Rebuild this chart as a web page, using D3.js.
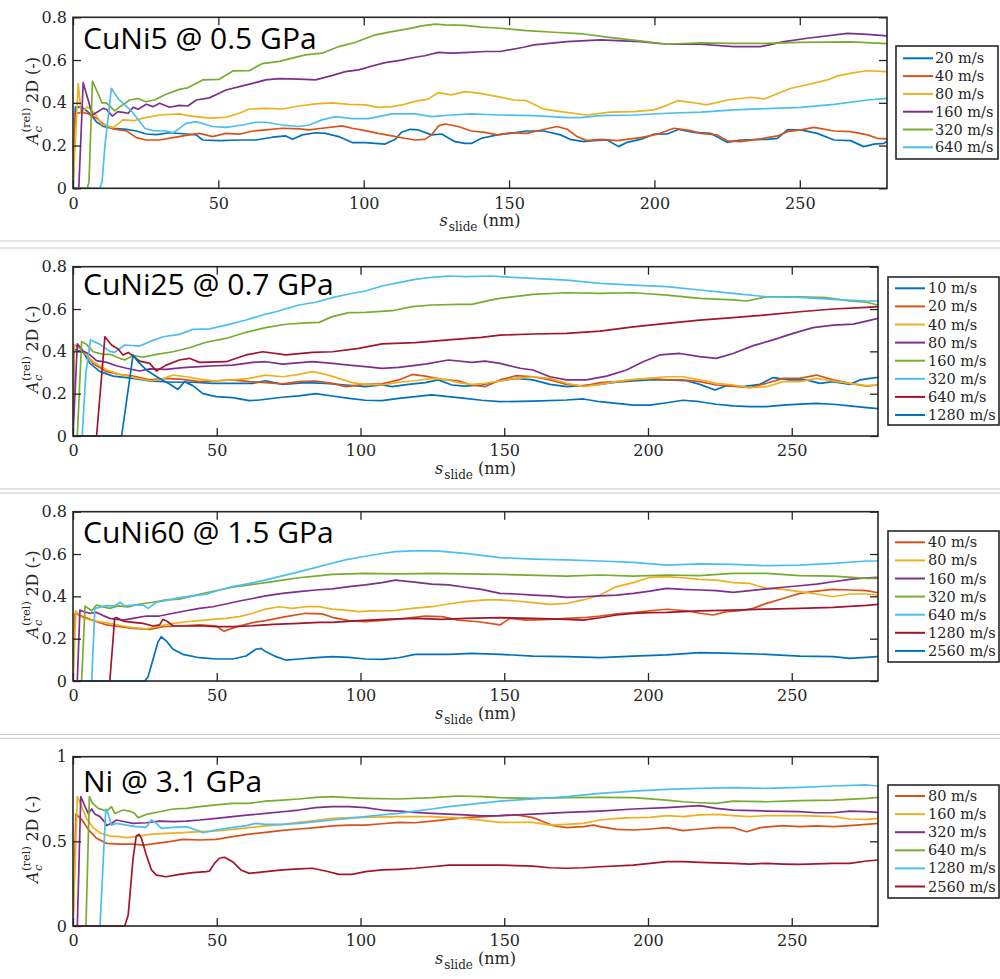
<!DOCTYPE html>
<html>
<head>
<meta charset="utf-8">
<script src="https://cdn.jsdelivr.net/npm/d3@7"></script>
<style>
  html, body { margin: 0; padding: 0; background: #fff; }
  svg { display: block; }
</style>
</head>
<body>
<svg id="fig" width="1000" height="979"></svg>
<script>
// ---------------------------------------------------------------
// Relative 2D contact area vs. sliding distance, four alloys.
// Each series is a list of [s_slide (nm), A_c^(rel) 2D] samples.
// ---------------------------------------------------------------

const xTicks = [0, 50, 100, 150, 200, 250];
const yTicksLow = [0, 0.2, 0.4, 0.6, 0.8];
const yTicksNi = [0, 0.5, 1];

// ---- CuNi5 @ 0.5 GPa ----
const cuni5Labels = ["20 m/s", "40 m/s", "80 m/s", "160 m/s", "320 m/s", "640 m/s"];
const cuni5_20 = [[0,0],[0.8,0.38],[3,0.38],[5.8,0.35],[8.1,0.31],[10.4,0.29],[13.8,0.28],[18.4,0.276],[21.8,0.268],[25.2,0.254],[28.7,0.251],[33.2,0.26],[39,0.254],[42.4,0.25],[44.6,0.226],[50.3,0.223],[57.2,0.226],[62.9,0.226],[68.6,0.239],[73.2,0.245],[75.5,0.229],[78.9,0.25],[83.4,0.26],[86.9,0.257],[91.4,0.242],[96,0.214],[100.6,0.214],[107.4,0.207],[110.8,0.229],[113,0.262],[116,0.276],[118.8,0.273],[123.4,0.25],[126.8,0.254],[131.4,0.218],[134.8,0.21],[137,0.21],[140.5,0.234],[146,0.25],[150.4,0.257],[156,0.268],[162,0.268],[167.7,0.25],[171,0.229],[175.7,0.218],[179,0.223],[183.7,0.226],[187.7,0.195],[190.6,0.215],[195.2,0.229],[199.8,0.253],[204.4,0.254],[208.4,0.276],[213.6,0.262],[219.3,0.257],[225,0.215],[229.6,0.226],[238.8,0.229],[242.3,0.234],[245.7,0.273],[250.3,0.273],[256,0.257],[261.8,0.226],[267.5,0.223],[272,0.195],[275.6,0.207],[279,0.21],[280,0.22]];
const cuni5_40 = [[0,0],[0.8,0.35],[3,0.355],[5,0.35],[8.1,0.328],[10.4,0.301],[13.8,0.278],[18.4,0.268],[21.8,0.237],[25.2,0.226],[29.8,0.226],[34.4,0.237],[40,0.25],[43.5,0.257],[48,0.242],[52.6,0.257],[57.2,0.253],[61.8,0.268],[66.3,0.273],[72,0.281],[77.7,0.278],[81.2,0.273],[85.7,0.281],[92.6,0.292],[96,0.281],[100.6,0.27],[105,0.257],[109.7,0.245],[114,0.234],[117.7,0.226],[121,0.229],[123.4,0.25],[125.7,0.292],[128,0.301],[132.5,0.289],[137,0.268],[141.7,0.262],[146,0.25],[150.4,0.26],[156,0.257],[159.6,0.268],[166.5,0.289],[170,0.276],[173.4,0.242],[176.8,0.223],[181.4,0.229],[187.2,0.223],[195.2,0.237],[201,0.253],[206.7,0.281],[212.4,0.27],[215.9,0.257],[221.6,0.25],[225,0.222],[229.6,0.218],[236.5,0.231],[242.3,0.245],[245.7,0.265],[250.3,0.273],[254.9,0.285],[261.8,0.268],[267.5,0.265],[273.3,0.25],[276.7,0.234],[280,0.231]];
const cuni5_80 = [[0,0],[1.8,0.49],[2.8,0.35],[5,0.382],[7.5,0.351],[9.8,0.3],[13.8,0.284],[17.2,0.32],[21.2,0.317],[24,0.328],[29.8,0.343],[36.6,0.348],[40,0.339],[46.9,0.328],[52.6,0.332],[57.2,0.351],[60.6,0.371],[66.3,0.374],[72,0.371],[77.7,0.385],[83.4,0.395],[89,0.4],[94.9,0.393],[100.6,0.39],[105,0.379],[109.7,0.382],[114,0.393],[118.8,0.41],[122,0.416],[125.7,0.448],[130,0.437],[134.8,0.452],[139.4,0.445],[146,0.429],[151.6,0.413],[156,0.41],[162,0.37],[167.7,0.359],[176.8,0.343],[184.9,0.356],[193,0.359],[199.8,0.367],[203,0.382],[208,0.41],[214.7,0.398],[218,0.39],[225,0.413],[233,0.426],[237.7,0.418],[242,0.441],[247,0.468],[253.7,0.488],[259.5,0.507],[263,0.526],[268.7,0.541],[273,0.55],[280,0.546]];
const cuni5_160 = [[0,0],[2,0],[3.5,0.494],[6.7,0.343],[10.4,0.374],[11.5,0.37],[13.5,0.338],[15.5,0.359],[19,0.351],[20.7,0.379],[22.4,0.37],[25.2,0.393],[27.5,0.382],[29.8,0.398],[33.2,0.379],[36.6,0.388],[39.5,0.385],[42.4,0.413],[46.9,0.423],[50.3,0.445],[52.6,0.46],[58.3,0.479],[61.8,0.491],[66.3,0.507],[70.9,0.513],[77.7,0.511],[83.4,0.507],[89,0.527],[93.7,0.546],[98.3,0.554],[102.9,0.572],[107.4,0.588],[113,0.6],[117.7,0.613],[121,0.62],[125.7,0.636],[130,0.632],[134.8,0.635],[141.7,0.64],[147,0.64],[155,0.66],[158.5,0.671],[170,0.686],[181.4,0.694],[195.2,0.686],[204.4,0.674],[215.9,0.674],[227.3,0.663],[236.5,0.663],[244.6,0.686],[252.6,0.702],[266.4,0.725],[273.3,0.72],[280,0.713]];
const cuni5_320 = [[0,0],[4.9,0],[5.5,0.03],[6.7,0.502],[10,0.4],[11.5,0.4],[14.4,0.362],[16,0.38],[19.5,0.413],[22.4,0.42],[25,0.405],[28,0.413],[32,0.44],[36.6,0.463],[39.5,0.47],[44.6,0.507],[50.3,0.51],[55,0.549],[60.6,0.55],[65,0.583],[71,0.594],[74,0.604],[80,0.624],[85.7,0.632],[91.4,0.663],[97,0.682],[104,0.718],[109.7,0.733],[116.5,0.749],[120,0.76],[124.5,0.768],[128,0.765],[134.8,0.762],[140.5,0.754],[146,0.75],[156,0.738],[165.4,0.73],[175.7,0.722],[183.7,0.707],[195,0.69],[204.4,0.674],[216,0.68],[227,0.678],[239,0.678],[250,0.683],[267.5,0.685],[280,0.677]];
const cuni5_640 = [[0,0],[9.2,0],[10,0.03],[11,0.2],[13.2,0.468],[15.5,0.42],[17.8,0.39],[20.2,0.36],[22.5,0.32],[24.8,0.28],[27.5,0.27],[32,0.268],[34.4,0.26],[36.6,0.28],[38.9,0.304],[42.4,0.312],[48,0.289],[52.6,0.285],[58.3,0.296],[62.9,0.309],[66.3,0.309],[72,0.296],[77.7,0.289],[81.2,0.296],[85.7,0.32],[90.3,0.335],[96,0.326],[101.7,0.326],[105,0.335],[109.7,0.348],[117.7,0.348],[123.4,0.335],[130,0.343],[137,0.348],[146,0.343],[158.5,0.34],[170,0.331],[174.5,0.331],[181.4,0.34],[193,0.343],[204.4,0.351],[216,0.356],[227.3,0.367],[238.8,0.373],[250.3,0.379],[261.8,0.393],[273.3,0.413],[280,0.421]];

// ---- CuNi25 @ 0.7 GPa ----
const cuni25Labels = ["10 m/s", "20 m/s", "40 m/s", "80 m/s", "160 m/s", "320 m/s", "640 m/s", "1280 m/s"];
const cuni25_10 = [[0,0],[0.3,0.41],[3.6,0.395],[5.9,0.343],[9.4,0.304],[14,0.283],[20.9,0.272],[26.7,0.26],[34.8,0.254],[41.7,0.254],[48.6,0.249],[55.5,0.249],[62.5,0.249],[67,0.261],[72.9,0.244],[81,0.252],[87.9,0.249],[94.8,0.241],[101.7,0.233],[107.5,0.241],[111,0.233],[116.7,0.244],[122.5,0.252],[127,0.265],[131.8,0.241],[136.4,0.236],[142.1,0.241],[148.5,0.26],[154.3,0.272],[160,0.265],[165.9,0.244],[171.7,0.233],[177.5,0.238],[183.3,0.244],[189,0.254],[194.9,0.26],[200.7,0.265],[206.5,0.265],[213.4,0.261],[218,0.244],[223.3,0.217],[227.3,0.238],[233.1,0.233],[238.9,0.244],[243.5,0.276],[249.3,0.265],[255.1,0.265],[259.8,0.249],[264.4,0.257],[270.2,0.244],[273.7,0.265],[277.2,0.272],[280,0.277]];
const cuni25_20 = [[0,0],[0.3,0.43],[2.4,0.42],[4.7,0.383],[7,0.343],[11.7,0.304],[16.3,0.291],[20.9,0.283],[26.7,0.265],[32.4,0.272],[38.2,0.268],[44,0.257],[49.8,0.261],[55.5,0.265],[61.3,0.257],[67,0.252],[72.9,0.246],[78.6,0.257],[84.4,0.26],[90.2,0.249],[94.8,0.233],[101.7,0.244],[107.5,0.246],[113.3,0.265],[118,0.291],[122.5,0.283],[128.3,0.268],[134,0.261],[138.7,0.241],[143.3,0.233],[148.5,0.265],[154.3,0.285],[160,0.28],[165.9,0.265],[171.7,0.244],[177.5,0.236],[183.3,0.252],[189,0.257],[194.9,0.265],[200.7,0.272],[206.5,0.265],[212.2,0.265],[218,0.257],[223.8,0.241],[229.6,0.236],[235.4,0.228],[241.2,0.249],[247,0.272],[252.8,0.272],[258.6,0.288],[264.4,0.265],[270.2,0.249],[276,0.236],[280,0.241]];
const cuni25_40 = [[0,0],[0.3,0.43],[3.6,0.4],[7,0.351],[11.7,0.312],[16.3,0.291],[20.9,0.277],[26.7,0.261],[30.1,0.265],[34.8,0.288],[39.4,0.28],[44,0.269],[49.8,0.26],[55.5,0.265],[61.3,0.272],[67,0.288],[72.9,0.28],[78.6,0.291],[83.3,0.304],[87.9,0.291],[92.5,0.272],[97.1,0.252],[101.7,0.244],[107.5,0.241],[113.3,0.254],[119,0.261],[124.8,0.272],[129.4,0.268],[134,0.252],[138.7,0.244],[143.3,0.249],[148.5,0.26],[154.3,0.272],[160,0.28],[165.9,0.272],[171.7,0.249],[177.5,0.233],[183.3,0.244],[189,0.257],[194.9,0.268],[200.7,0.272],[206.5,0.28],[212.2,0.28],[218,0.265],[223.8,0.249],[229.6,0.241],[235.4,0.228],[241.2,0.233],[247,0.257],[252.8,0.257],[258.6,0.272],[264.4,0.26],[270.2,0.249],[276,0.238],[280,0.241]];
const cuni25_80 = [[0,0],[1.5,0.436],[3.6,0.4],[5.3,0.39],[8.2,0.356],[11.7,0.348],[15.1,0.332],[18.6,0.32],[23.2,0.307],[26.7,0.317],[32.4,0.315],[38.2,0.323],[44,0.328],[49.8,0.332],[55.5,0.335],[62.5,0.348],[67,0.351],[72.9,0.34],[83.3,0.351],[90.2,0.343],[96,0.335],[101.7,0.328],[107.5,0.32],[113.3,0.324],[122.5,0.34],[130.6,0.359],[138.7,0.348],[143.3,0.354],[148.5,0.343],[155.5,0.32],[160,0.312],[165.9,0.28],[171.7,0.265],[178.6,0.265],[185.6,0.283],[192.5,0.312],[198.3,0.351],[204.1,0.383],[211.1,0.39],[218,0.375],[223.8,0.367],[229.6,0.39],[236.6,0.427],[243.5,0.454],[250.5,0.485],[257.4,0.512],[264.4,0.524],[271.4,0.529],[276,0.543],[280,0.556]];
const cuni25_160 = [[0,0],[1.5,0],[3,0.446],[4.7,0.433],[7,0.398],[10.5,0.386],[12.8,0.386],[16.3,0.367],[18,0.359],[20.9,0.38],[24.4,0.372],[29,0.386],[34.8,0.398],[40.5,0.417],[46.3,0.443],[53.2,0.461],[60.2,0.49],[67,0.512],[74,0.528],[81,0.535],[85.6,0.537],[90.2,0.564],[96,0.583],[101.7,0.584],[111,0.592],[118,0.611],[124.8,0.619],[134,0.622],[138.7,0.622],[145.6,0.643],[148.5,0.65],[160,0.669],[171.7,0.677],[183.3,0.674],[194.9,0.677],[206.5,0.666],[218,0.65],[229.6,0.643],[234.3,0.638],[241.2,0.658],[252.8,0.658],[262,0.654],[270.2,0.638],[276,0.632],[280,0.619]];
const cuni25_320 = [[0,0],[3.2,0],[4.5,0.3],[6.1,0.454],[9.4,0.433],[12.8,0.4],[14.5,0.395],[18,0.43],[23.2,0.425],[26.7,0.446],[31.3,0.469],[37,0.48],[41.7,0.504],[47.5,0.506],[53.2,0.524],[60.2,0.548],[66,0.572],[70.6,0.587],[78.6,0.619],[84.4,0.632],[90.2,0.654],[96,0.671],[101.7,0.685],[107.5,0.709],[113.3,0.725],[119,0.74],[124.8,0.75],[130.6,0.756],[136.4,0.753],[145.6,0.756],[148.5,0.753],[160,0.745],[171.7,0.737],[183.3,0.721],[194.9,0.713],[206.5,0.706],[218,0.69],[229.6,0.674],[241.2,0.658],[252.8,0.655],[264.4,0.646],[276,0.638],[280,0.638]];
const cuni25_640 = [[0,0],[8.2,0],[11.1,0.469],[13.4,0.43],[15.7,0.411],[17.4,0.383],[19.2,0.395],[23.2,0.354],[26.7,0.343],[29,0.307],[32.4,0.335],[37,0.359],[40.5,0.367],[44,0.348],[53.2,0.351],[60.2,0.383],[66,0.398],[74,0.383],[83.3,0.395],[90.2,0.398],[99.4,0.414],[107.5,0.435],[119,0.441],[130.6,0.454],[142,0.466],[148.5,0.477],[160,0.482],[171.7,0.485],[183.3,0.496],[194.9,0.516],[206.5,0.532],[218,0.548],[229.6,0.559],[241.2,0.572],[252.8,0.587],[264.4,0.6],[276,0.608],[280,0.611]];
const cuni25_1280 = [[0,0],[16.9,0],[20.9,0.383],[22.6,0.351],[25.5,0.312],[30.1,0.272],[33.6,0.246],[36.5,0.22],[38.8,0.257],[41.7,0.238],[45.2,0.2],[49.8,0.186],[55.5,0.181],[61.3,0.167],[64.8,0.17],[72.9,0.183],[78.6,0.19],[84.4,0.2],[90.2,0.189],[96,0.178],[101.7,0.169],[107.5,0.167],[113.3,0.178],[119,0.186],[124.8,0.194],[130.6,0.186],[136.4,0.178],[142.1,0.169],[148.5,0.162],[160,0.165],[171.7,0.17],[177.5,0.175],[183.3,0.162],[189.1,0.154],[194.9,0.146],[200.7,0.146],[206.5,0.157],[212.2,0.169],[218,0.162],[223.8,0.15],[229.6,0.142],[235.4,0.139],[241.2,0.139],[247,0.146],[252.8,0.151],[258.6,0.154],[264.4,0.15],[270.2,0.142],[276,0.134],[280,0.129]];

// ---- CuNi60 @ 1.5 GPa ----
const cuni60Labels = ["40 m/s", "80 m/s", "160 m/s", "320 m/s", "640 m/s", "1280 m/s", "2560 m/s"];
const cuni60_40 = [[0,0],[0.7,0.32],[2.4,0.309],[4.7,0.299],[8.2,0.28],[11.7,0.265],[16.3,0.257],[20.9,0.249],[26.7,0.244],[31.3,0.257],[37,0.26],[44,0.265],[49.8,0.26],[52.5,0.235],[55.5,0.25],[58.5,0.262],[62.5,0.276],[67,0.285],[74,0.304],[81,0.32],[86.7,0.317],[90.2,0.301],[96,0.285],[101.7,0.28],[108.6,0.288],[115.6,0.296],[122.5,0.307],[128.3,0.304],[134,0.288],[141,0.28],[148.5,0.265],[152,0.296],[157.8,0.288],[165.9,0.291],[171.7,0.296],[177.5,0.299],[183.3,0.307],[189.1,0.317],[194.9,0.323],[200.7,0.332],[206.5,0.339],[213.4,0.332],[218,0.32],[222.7,0.312],[227.3,0.328],[232,0.332],[236.6,0.343],[241.2,0.367],[247,0.39],[252.8,0.414],[258.6,0.425],[264.4,0.433],[270.2,0.43],[276,0.427],[280,0.417]];
const cuni60_80 = [[0,0],[1,0.332],[2.4,0.304],[5.9,0.288],[9.4,0.28],[12.8,0.272],[17.4,0.26],[20.9,0.252],[25.5,0.246],[30.1,0.26],[34.8,0.272],[39.4,0.28],[44,0.285],[48.6,0.291],[53.2,0.296],[57.9,0.304],[62.5,0.32],[67,0.34],[71.7,0.351],[76.3,0.343],[81,0.351],[85.6,0.351],[90.2,0.34],[94.8,0.335],[99.4,0.328],[104,0.331],[111,0.332],[118,0.343],[124.8,0.351],[130.6,0.364],[136.4,0.375],[143.3,0.383],[148.5,0.383],[154.3,0.378],[160,0.37],[165.9,0.362],[171.7,0.367],[177.5,0.383],[183.3,0.406],[189.1,0.446],[194.9,0.465],[200.7,0.49],[206.5,0.493],[212.2,0.488],[218,0.48],[223.8,0.477],[229.6,0.465],[235.4,0.461],[241.2,0.438],[247,0.433],[252.8,0.422],[258.6,0.411],[264.4,0.398],[270.2,0.411],[276,0.411],[280,0.406]];
const cuni60_160 = [[0,0],[1.5,0],[2.4,0.335],[3.6,0.328],[5.9,0.32],[8.2,0.324],[10.5,0.309],[12.8,0.296],[17.4,0.288],[20.9,0.296],[25.5,0.307],[30.1,0.307],[34.8,0.32],[39.4,0.332],[44,0.343],[48.6,0.351],[53.2,0.364],[57.9,0.378],[62.5,0.39],[67,0.402],[72.9,0.414],[78.6,0.422],[84.4,0.43],[90.2,0.435],[96,0.446],[101.7,0.454],[107.5,0.465],[112.1,0.477],[118,0.468],[124.8,0.458],[130.6,0.454],[136.4,0.443],[142.1,0.433],[148.5,0.414],[154.3,0.411],[160,0.406],[165.9,0.402],[171.7,0.395],[177.5,0.398],[183.3,0.402],[189.1,0.406],[194.9,0.414],[200.7,0.425],[206.5,0.438],[212.2,0.433],[218,0.43],[223.8,0.427],[229.6,0.419],[235.4,0.427],[241.2,0.435],[247,0.443],[252.8,0.45],[258.6,0.458],[264.4,0.469],[270.2,0.48],[273.6,0.485],[280,0.49]];
const cuni60_320 = [[0,0],[3,0],[4.2,0.354],[6.5,0.332],[8.2,0.359],[10.5,0.35],[12.8,0.343],[15.7,0.355],[19.2,0.35],[23.2,0.364],[27.8,0.372],[32.4,0.383],[37,0.387],[41.7,0.402],[46.3,0.417],[50.9,0.43],[55.5,0.443],[61.3,0.454],[67,0.465],[72.9,0.477],[78.6,0.488],[84.4,0.496],[90.2,0.504],[101.7,0.509],[113.3,0.506],[124.8,0.509],[136.4,0.506],[148.5,0.504],[171.7,0.496],[183.3,0.501],[194.9,0.496],[206.5,0.501],[218,0.498],[229.6,0.509],[241.2,0.509],[252.8,0.498],[264.4,0.496],[276,0.485],[280,0.485]];
const cuni60_640 = [[0,0],[6.5,0],[7.6,0.343],[11.7,0.356],[14.5,0.355],[16.3,0.372],[18,0.355],[20.9,0.359],[24.4,0.359],[26.1,0.343],[29,0.372],[33.6,0.383],[37,0.394],[41.7,0.402],[46.3,0.41],[50.9,0.43],[55.5,0.446],[60.2,0.458],[66,0.474],[71.7,0.493],[77.5,0.512],[83.3,0.532],[89,0.553],[94.8,0.572],[100.6,0.587],[106.4,0.6],[112.1,0.611],[120.2,0.616],[127.1,0.614],[136.4,0.603],[142.1,0.594],[148.5,0.583],[160,0.576],[171.7,0.572],[183.3,0.567],[194.9,0.561],[206.5,0.548],[218,0.553],[229.6,0.551],[241.2,0.545],[252.8,0.548],[264.4,0.556],[276,0.567],[280,0.567]];
const cuni60_1280 = [[0,0],[12.8,0],[14.5,0.296],[15.1,0.3],[17.4,0.283],[20.9,0.277],[24.4,0.272],[27.8,0.26],[30.1,0.265],[31.3,0.291],[32.4,0.285],[34.8,0.261],[39.4,0.26],[44,0.261],[49.8,0.257],[55.5,0.257],[62.5,0.261],[69.7,0.268],[78.6,0.272],[85.6,0.277],[90.2,0.277],[99.4,0.285],[108.6,0.291],[119,0.296],[128.3,0.291],[136.4,0.296],[148.5,0.299],[160,0.296],[171.7,0.291],[177.5,0.288],[183.3,0.299],[189.1,0.312],[194.9,0.32],[200.7,0.323],[206.5,0.324],[218,0.331],[229.6,0.335],[241.2,0.34],[252.8,0.343],[264.4,0.348],[276,0.357],[280,0.362]];
const cuni60_2560 = [[0,0],[25,0],[26.1,0.02],[27.8,0.1],[29.6,0.186],[30.7,0.209],[32.4,0.19],[34.8,0.15],[38.2,0.126],[44,0.11],[49.8,0.104],[55.5,0.104],[60.2,0.118],[63.6,0.15],[65.4,0.154],[67,0.139],[70.6,0.115],[74,0.099],[78.6,0.104],[84.4,0.11],[90.2,0.115],[96,0.112],[101.7,0.104],[107.5,0.102],[113.3,0.11],[119,0.126],[130.6,0.126],[138.7,0.131],[148.5,0.126],[160,0.118],[171.7,0.115],[183.3,0.11],[194.9,0.118],[206.5,0.123],[218,0.134],[229.6,0.131],[241.2,0.126],[252.8,0.118],[264.4,0.115],[270.2,0.107],[280,0.115]];

// ---- Ni @ 3.1 GPa ----
const niLabels = ["80 m/s", "160 m/s", "320 m/s", "640 m/s", "1280 m/s", "2560 m/s"];
const ni_80 = [[0,0],[1,0.661],[3,0.63],[5.3,0.571],[8.2,0.518],[11.7,0.488],[16.3,0.484],[20.9,0.484],[24.4,0.478],[29,0.488],[33.6,0.498],[38.2,0.512],[44,0.508],[49.8,0.512],[55.5,0.528],[61.3,0.543],[67,0.553],[72.9,0.565],[78.6,0.573],[84.4,0.581],[90.2,0.591],[96,0.596],[101.7,0.596],[107.5,0.604],[113.3,0.612],[119,0.61],[124.8,0.62],[130.6,0.63],[136.4,0.64],[143.3,0.646],[148.5,0.652],[154.3,0.656],[160,0.64],[163.6,0.616],[167,0.593],[171.7,0.581],[177.5,0.587],[181,0.596],[183.3,0.587],[189.1,0.571],[194.9,0.567],[200.7,0.573],[206.5,0.581],[212.2,0.563],[218,0.573],[223.8,0.581],[229.6,0.581],[234.3,0.557],[239,0.581],[247,0.593],[252.8,0.587],[258.6,0.591],[264.4,0.587],[270.2,0.593],[276,0.6],[280,0.606]];
const ni_160 = [[0,0],[1.5,0.764],[3,0.705],[4.7,0.636],[7,0.581],[9.4,0.551],[12.8,0.531],[16.3,0.528],[18.6,0.522],[22,0.528],[26.7,0.541],[32.4,0.547],[38.2,0.551],[44,0.557],[49.8,0.561],[55.5,0.571],[61.3,0.581],[67,0.591],[72.9,0.6],[78.6,0.612],[84.4,0.622],[90.2,0.636],[96,0.64],[101.7,0.642],[113.3,0.646],[124.8,0.646],[136.4,0.636],[148.5,0.612],[154.3,0.612],[160,0.612],[165.9,0.596],[171.7,0.6],[177.5,0.606],[183.3,0.626],[189.1,0.636],[194.9,0.64],[200.7,0.642],[206.5,0.652],[212.2,0.646],[218,0.656],[223.8,0.659],[229.6,0.652],[235.4,0.646],[241.2,0.652],[252.8,0.652],[264.4,0.646],[270.2,0.632],[276,0.63],[280,0.636]];
const ni_320 = [[0,0],[1.5,0],[2.7,0.764],[4.2,0.705],[5.3,0.665],[6.5,0.691],[7.6,0.661],[9.4,0.646],[11.1,0.612],[11.7,0.593],[14,0.612],[15.1,0.626],[18,0.616],[20.9,0.606],[25.5,0.61],[30.1,0.62],[34.8,0.616],[39.4,0.62],[44,0.626],[49.8,0.636],[55.5,0.646],[61.3,0.656],[67,0.665],[72.9,0.675],[78.6,0.685],[84.4,0.699],[90.2,0.705],[96,0.705],[101.7,0.699],[107.5,0.685],[113.3,0.679],[119,0.671],[124.8,0.665],[130.6,0.661],[136.4,0.656],[142.1,0.65],[148.5,0.652],[160,0.661],[171.7,0.671],[183.3,0.679],[194.9,0.691],[206.5,0.699],[212.2,0.705],[218,0.711],[223.8,0.695],[229.6,0.685],[241.2,0.679],[252.8,0.675],[258.6,0.669],[264.4,0.669],[270.2,0.679],[276,0.675],[280,0.671]];
const ni_640 = [[0,0],[4.5,0],[5.7,0.764],[6.8,0.724],[8.8,0.695],[11.7,0.679],[13.4,0.705],[14.5,0.665],[17.4,0.685],[19.7,0.679],[21.5,0.665],[22.6,0.64],[25.5,0.659],[30.1,0.675],[34.8,0.691],[39.4,0.695],[44,0.705],[49.8,0.715],[55.5,0.724],[61.3,0.724],[67,0.738],[72.9,0.744],[78.6,0.75],[84.4,0.76],[90.2,0.764],[96,0.758],[101.7,0.754],[113.3,0.75],[124.8,0.758],[134,0.768],[142.1,0.764],[148.5,0.758],[160,0.754],[171.7,0.758],[183.3,0.76],[194.9,0.758],[206.5,0.744],[212.2,0.734],[218,0.728],[223.8,0.724],[229.6,0.738],[241.2,0.734],[252.8,0.74],[264.4,0.744],[276,0.754],[280,0.76]];
const ni_1280 = [[0,0],[9.4,0],[11.4,0.691],[12.2,0.665],[13.4,0.596],[15.1,0.606],[18.6,0.596],[22,0.587],[25.5,0.583],[27.3,0.626],[29,0.606],[30.7,0.577],[34.8,0.583],[39.4,0.587],[44,0.561],[45.2,0.551],[48.6,0.563],[53.2,0.577],[60.2,0.593],[63.6,0.606],[67,0.6],[72.9,0.6],[78.6,0.606],[84.4,0.616],[90.2,0.626],[96,0.636],[101.7,0.646],[107.5,0.656],[113.3,0.665],[119,0.679],[124.8,0.691],[130.6,0.705],[136.4,0.715],[142.1,0.726],[148.5,0.738],[160,0.75],[171.7,0.764],[183.3,0.783],[194.9,0.797],[206.5,0.807],[218,0.813],[229.6,0.817],[241.2,0.813],[252.8,0.819],[264.4,0.827],[276,0.833],[280,0.827]];
const ni_2560 = [[0,0],[18,0],[19.2,0.065],[20.9,0.4],[22,0.531],[23,0.541],[23.8,0.518],[25.5,0.419],[27.3,0.331],[29,0.301],[32.4,0.291],[37,0.305],[41.7,0.315],[46.3,0.321],[47.5,0.325],[49.2,0.37],[50.9,0.4],[52.7,0.406],[55.5,0.38],[58.4,0.331],[61.3,0.311],[67,0.321],[72.9,0.331],[78.6,0.337],[83.3,0.341],[87.9,0.325],[92.5,0.305],[97.1,0.305],[101.7,0.321],[107.5,0.331],[113.3,0.335],[119,0.341],[124.8,0.35],[130.6,0.36],[136.4,0.36],[148.5,0.36],[160,0.354],[165.9,0.344],[171.7,0.341],[177.5,0.344],[183.3,0.35],[194.9,0.36],[200.7,0.37],[206.5,0.38],[212.2,0.38],[218,0.376],[229.6,0.37],[235.4,0.366],[241.2,0.37],[247,0.366],[252.8,0.364],[264.4,0.37],[270.2,0.37],[276,0.384],[280,0.39]];

// ---------------------------------------------------------------
// Styling and layout
// ---------------------------------------------------------------
const C = {
  blue: "#0072BD", orange: "#D95319", yellow: "#EDB120", purple: "#7E2F8E",
  green: "#77AC30", cyan: "#4DBEEE", red: "#A2142F"
};
const AXIS_COLOR = "#262626";
const SERIF = "'DejaVu Serif', serif";
const SANS = "'Open Sans', sans-serif";
const X_MAX = 280;

const panels = [
  {
    title: "CuNi5 @ 0.5 GPa", labels: cuni5Labels,
    series: [cuni5_20, cuni5_40, cuni5_80, cuni5_160, cuni5_320, cuni5_640],
    colors: [C.blue, C.orange, C.yellow, C.purple, C.green, C.cyan],
    yMax: 0.8, yTicks: yTicksLow,
    box: { left: 73, right: 887, top: 17.3, bottom: 188.3 }, titleY: 48.5,
    legend: { x: 896, y: 46, w: 102, h: 113, row0: 58.3, step: 17.8, l0: 903, l1: 933, tx: 935 }
  },
  {
    title: "CuNi25 @ 0.7 GPa", labels: cuni25Labels,
    series: [cuni25_10, cuni25_20, cuni25_40, cuni25_80, cuni25_160, cuni25_320, cuni25_640, cuni25_1280],
    colors: [C.blue, C.orange, C.yellow, C.purple, C.green, C.cyan, C.red, C.blue],
    yMax: 0.8, yTicks: yTicksLow,
    box: { left: 73, right: 878, top: 266.7, bottom: 436 }, titleY: 295,
    legend: { x: 888, y: 277, w: 111, h: 148, row0: 288.3, step: 18.1, l0: 895, l1: 925, tx: 928 }
  },
  {
    title: "CuNi60 @ 1.5 GPa", labels: cuni60Labels,
    series: [cuni60_40, cuni60_80, cuni60_160, cuni60_320, cuni60_640, cuni60_1280, cuni60_2560],
    colors: [C.orange, C.yellow, C.purple, C.green, C.cyan, C.red, C.blue],
    yMax: 0.8, yTicks: yTicksLow,
    box: { left: 73, right: 878, top: 511.7, bottom: 681 }, titleY: 543.3,
    legend: { x: 888, y: 531, w: 111, h: 131, row0: 542.3, step: 18.1, l0: 895, l1: 925, tx: 928 }
  },
  {
    title: "Ni @ 3.1 GPa", labels: niLabels,
    series: [ni_80, ni_160, ni_320, ni_640, ni_1280, ni_2560],
    colors: [C.orange, C.yellow, C.purple, C.green, C.cyan, C.red],
    yMax: 1, yTicks: yTicksNi,
    box: { left: 73, right: 878, top: 756.7, bottom: 926 }, titleY: 791.7,
    legend: { x: 888, y: 785, w: 111, h: 113, row0: 796, step: 18.1, l0: 895, l1: 925, tx: 928 }
  }
];

// thin grey rules between the stacked figures
const separators = [241, 248, 489, 493, 734.5, 738.3];

const svg = d3.select("#fig");
svg.append("rect").attr("width", 1000).attr("height", 979).attr("fill", "#fff");

svg.selectAll("line.sep").data(separators).join("line")
  .attr("class", "sep")
  .attr("x1", 0).attr("x2", 1000)
  .attr("y1", d => d).attr("y2", d => d)
  .attr("stroke", "#c8c8c8").attr("stroke-width", 1);

const fmt = d3.format("~g");
const TICK = 8;

function drawYLabel(parent, cx, cy) {
  const lab = parent.append("g")
    .attr("transform", `translate(${cx},${cy}) rotate(-90)`)
    .attr("font-family", SERIF).attr("fill", AXIS_COLOR);
  const a = lab.append("text").attr("font-size", 16).attr("font-style", "italic").text("A");
  const wA = a.node().getComputedTextLength();
  const sup = lab.append("text").attr("font-size", 11.5).attr("x", wA + 0.5).attr("y", -8).text("(rel)");
  const sub = lab.append("text").attr("font-size", 11.5).attr("font-style", "italic")
    .attr("x", wA + 0.5).attr("y", 4).text("c");
  const wS = Math.max(sup.node().getComputedTextLength(), sub.node().getComputedTextLength());
  const rest = lab.append("text").attr("font-size", 16).attr("x", wA + 0.5 + wS + 4.5).text("2D (-)");
  const total = wA + 0.5 + wS + 4.5 + rest.node().getComputedTextLength();
  lab.selectAll("text").attr("transform", `translate(${-total / 2},0)`);
}

function drawXLabel(parent, cx, y) {
  const lab = parent.append("g").attr("font-family", SERIF).attr("fill", AXIS_COLOR);
  const s = lab.append("text").attr("font-size", 16).attr("font-style", "italic").attr("y", y).text("s");
  const ws = s.node().getComputedTextLength();
  const sub = lab.append("text").attr("font-size", 12).attr("x", ws + 1).attr("y", y + 5).text("slide");
  const wsub = sub.node().getComputedTextLength();
  const rest = lab.append("text").attr("font-size", 16).attr("x", ws + 1 + wsub + 5).attr("y", y).text("(nm)");
  const total = ws + 1 + wsub + 5 + rest.node().getComputedTextLength();
  lab.attr("transform", `translate(${cx - total / 2},0)`);
}

panels.forEach((p, pi) => {
  const b = p.box;
  const x = d3.scaleLinear().domain([0, X_MAX]).range([b.left, b.right]);
  const y = d3.scaleLinear().domain([0, p.yMax]).range([b.bottom, b.top]);
  const g = svg.append("g").attr("class", "panel");

  const clipId = `clip-${pi}`;
  g.append("clipPath").attr("id", clipId).append("rect")
    .attr("x", b.left).attr("y", b.top - 1)
    .attr("width", b.right - b.left).attr("height", b.bottom - b.top + 2);

  // data curves (later series drawn on top)
  const line = d3.line().x(d => x(d[0])).y(d => y(d[1]));
  g.append("g").attr("clip-path", `url(#${clipId})`)
    .selectAll("path").data(p.series).join("path")
    .attr("d", line)
    .attr("fill", "none")
    .attr("stroke", (d, i) => p.colors[i])
    .attr("stroke-width", 1.7)
    .attr("stroke-linejoin", "round");

  // axes: ticks point inward on all four sides
  const styleAxis = sel => {
    sel.select(".domain").remove();
    sel.selectAll(".tick line").attr("stroke", AXIS_COLOR).attr("stroke-width", 1.3);
    sel.selectAll(".tick text").attr("fill", AXIS_COLOR)
      .attr("font-family", SERIF).attr("font-size", 16);
  };
  g.append("g").attr("transform", `translate(0,${b.bottom})`)
    .call(d3.axisBottom(x).tickValues(xTicks).tickSizeInner(-TICK).tickSizeOuter(0)
      .tickPadding(9).tickFormat(fmt))
    .call(styleAxis);
  g.append("g").attr("transform", `translate(0,${b.top})`)
    .call(d3.axisTop(x).tickValues(xTicks).tickSizeInner(-TICK).tickSizeOuter(0).tickFormat(""))
    .call(styleAxis);
  g.append("g").attr("transform", `translate(${b.left},0)`)
    .call(d3.axisLeft(y).tickValues(p.yTicks).tickSizeInner(-TICK).tickSizeOuter(0)
      .tickPadding(6).tickFormat(fmt))
    .call(styleAxis);
  g.append("g").attr("transform", `translate(${b.right},0)`)
    .call(d3.axisRight(y).tickValues(p.yTicks).tickSizeInner(-TICK).tickSizeOuter(0).tickFormat(""))
    .call(styleAxis);

  g.append("rect")
    .attr("x", b.left).attr("y", b.top)
    .attr("width", b.right - b.left).attr("height", b.bottom - b.top)
    .attr("fill", "none").attr("stroke", AXIS_COLOR).attr("stroke-width", 1.6);

  // panel title inside the plot area
  g.append("text")
    .attr("x", b.left + 10).attr("y", p.titleY)
    .attr("font-family", SANS).attr("font-size", 30).attr("fill", "#000")
    .text(p.title);

  drawYLabel(g, 38, (b.top + b.bottom) / 2 - 2);
  drawXLabel(g, (b.left + b.right) / 2, b.bottom + 38);

  // legend
  const L = p.legend;
  const lg = g.append("g").attr("class", "legend");
  lg.append("rect").attr("x", L.x).attr("y", L.y).attr("width", L.w).attr("height", L.h)
    .attr("fill", "#fff").attr("stroke", AXIS_COLOR).attr("stroke-width", 1.6);
  const rows = lg.selectAll("g.row").data(p.labels).join("g").attr("class", "row")
    .attr("transform", (d, i) => `translate(0,${L.row0 + i * L.step})`);
  rows.append("line").attr("x1", L.l0).attr("x2", L.l1).attr("y1", 0).attr("y2", 0)
    .attr("stroke", (d, i) => p.colors[i]).attr("stroke-width", 2);
  rows.append("text").attr("x", L.tx).attr("y", 0).attr("dy", "0.35em")
    .attr("font-family", SERIF).attr("font-size", 14.5).attr("fill", AXIS_COLOR)
    .text(d => d);
});
</script>
</body>
</html>
